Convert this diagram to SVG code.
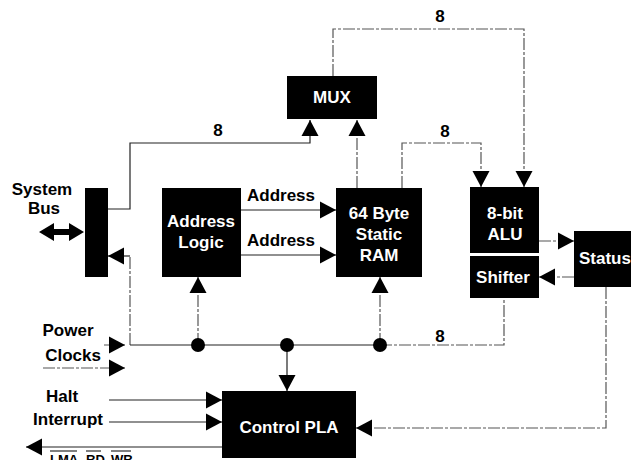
<svg xmlns="http://www.w3.org/2000/svg" width="631" height="460" viewBox="0 0 631 460">
<style>
.box{fill:#000}
.wt{fill:#fff;font-family:"Liberation Sans",Arial,sans-serif;font-weight:bold;font-size:17px;text-anchor:middle}
.bt{fill:#000;font-family:"Liberation Sans",Arial,sans-serif;font-weight:bold;font-size:17px;text-anchor:middle}
.ln{fill:none;stroke:#222;stroke-width:1.2}
.dl{fill:none;stroke:#555;stroke-width:1.2;stroke-dasharray:12 2 3 2}
.ar{marker-end:url(#ah)}
</style>
<defs>
<marker id="ah" markerUnits="userSpaceOnUse" markerWidth="17" markerHeight="18" refX="16" refY="9" orient="auto">
<path d="M0,0.5 L16,9 L0,17.5 Z" fill="#000"/>
</marker>
</defs>
<g id="connectors">
<path class="ln ar" d="M108,209 H130 V143 H310 V120"/>
<path class="dl" d="M130,345 V256"/>
<path class="ln ar" d="M130,256 H108"/>
<path class="ln" d="M130,345 H380"/>
<path class="dl" d="M380,345 H504 V299"/>
<path class="dl ar" d="M198,345 V277"/>
<path class="dl ar" d="M380,345 V277"/>
<path class="ln ar" d="M287,345 V391"/>
<path class="ln ar" d="M241,210 H336"/>
<path class="ln ar" d="M241,255 H336"/>
<path class="dl ar" d="M357,188 V120"/>
<path class="dl ar" d="M402,188 V143 H481 V187"/>
<path class="dl ar" d="M333,76 V29 H524 V187"/>
<path class="dl ar" d="M539,241 H574"/>
<path class="dl ar" d="M574,277 H539"/>
<path class="dl ar" d="M606,287 V428 H356"/>
<path class="ln ar" d="M109,400 H222"/>
<path class="ln ar" d="M109,422 H222"/>
<path class="ln ar" d="M222,447 H26"/>
<path class="dl ar" d="M104,345 H125"/>
<path class="dl ar" d="M43,368 H125"/>
<polygon points="39,232 54,223 54,229 69,229 69,223 84,232 69,241 69,235 54,235 54,241" fill="#000"/>
<circle cx="198" cy="345" r="7" fill="#000"/>
<circle cx="287" cy="345" r="7" fill="#000"/>
<circle cx="380" cy="345" r="7" fill="#000"/>
<text class="bt" x="440" y="22">8</text>
<text class="bt" x="218" y="136">8</text>
<text class="bt" x="445" y="137">8</text>
<text class="bt" x="440" y="342">8</text>
<text class="bt" x="281" y="201">Address</text>
<text class="bt" x="281" y="246">Address</text>
</g>
<g id="labels">
<text class="bt" x="42" y="195">System</text>
<text class="bt" x="44" y="214">Bus</text>
<text class="bt" x="68" y="336">Power</text>
<text class="bt" x="73" y="361">Clocks</text>
<text class="bt" x="62" y="402">Halt</text>
<text class="bt" x="68" y="425">Interrupt</text>
<g font-family="Liberation Sans,Arial,sans-serif" font-weight="bold" font-size="13" fill="#000">
<text x="50" y="464">LMA</text>
<text x="86" y="464">RD</text>
<text x="111" y="464">WR</text>
</g>
<path d="M50,451 H77 M86,451 H101 M111,451 H131" stroke="#000" stroke-width="1.2"/>
</g>
<g id="system-bus"><rect class="box" x="85" y="188" width="23" height="89"/></g>
<g id="mux"><rect class="box" x="287" y="76" width="90" height="43"/><text class="wt" x="332" y="103">MUX</text></g>
<g id="address-logic"><rect class="box" x="162" y="188" width="79" height="89"/><text class="wt" x="201" y="227">Address</text><text class="wt" x="201" y="248">Logic</text></g>
<g id="ram"><rect class="box" x="336" y="188" width="86" height="89"/><text class="wt" x="379" y="219">64 Byte</text><text class="wt" x="379" y="240">Static</text><text class="wt" x="379" y="261">RAM</text></g>
<g id="alu"><rect class="box" x="470" y="187" width="69" height="66"/><text class="wt" x="505" y="219">8-bit</text><text class="wt" x="505" y="240">ALU</text></g>
<g id="shifter"><rect class="box" x="470" y="256" width="69" height="42"/><text class="wt" x="503" y="283">Shifter</text></g>
<g id="status"><rect class="box" x="574" y="231" width="70" height="56"/><text class="wt" x="579" y="264" style="text-anchor:start">Status</text></g>
<g id="control-pla"><rect class="box" x="222" y="391" width="134" height="67"/><text class="wt" x="289" y="433">Control PLA</text></g>
</svg>
